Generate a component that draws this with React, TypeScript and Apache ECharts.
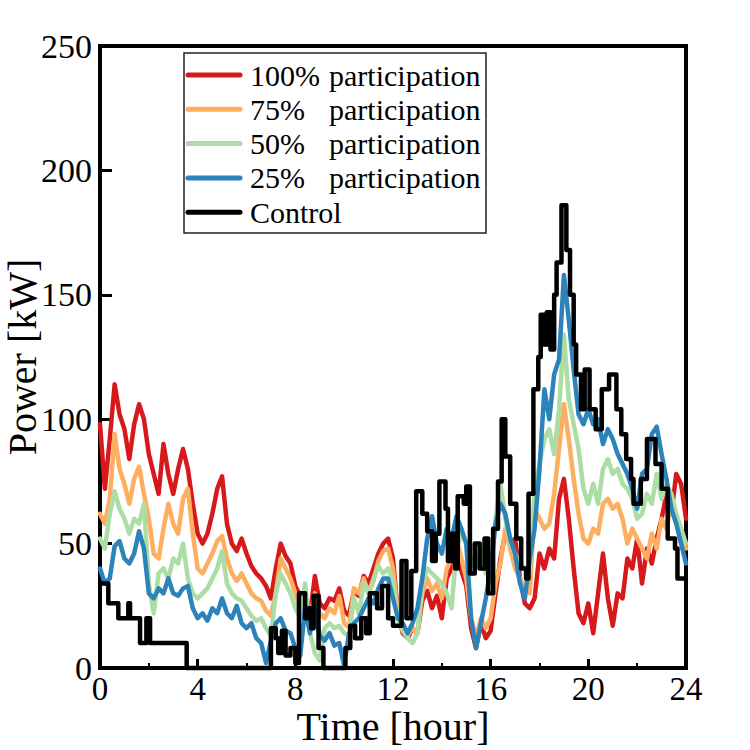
import { useEffect, useRef } from "react";
import * as echarts from "echarts";

// Sampled every 0.2 h from 0 to 24 h
const HOURS: number[] = Array.from({ length: 121 }, (_, i) => Math.round(i * 2) / 10);

const P100: number[] = [
  98, 72, 92, 114, 102, 96, 84, 98, 106, 100,
  86, 78, 70, 90, 78, 70, 80, 88, 80, 66,
  54, 50, 54, 62, 72, 77, 58, 50, 47, 52,
  46, 41, 38, 36, 33, 28, 40, 50, 45, 42,
  33, 29, 25, 21, 37, 26, 24, 28, 27, 32,
  23, 21, 31, 29, 37, 34, 40, 46, 50, 52,
  44, 22, 14, 12, 16, 14, 27, 31, 24, 29,
  20, 36, 40, 47, 39, 33, 16, 8, 18, 12,
  15, 30, 44, 54, 50, 52, 36, 26, 24, 28,
  46, 40, 48, 44, 68, 76, 60, 40, 22, 18,
  26, 14, 30, 46, 28, 17, 30, 28, 44, 40,
  52, 34, 48, 42, 52, 60, 70, 62, 78, 74,
  60,
];

const P75: number[] = [
  62, 58, 68, 94, 80, 74, 66, 76, 81, 70,
  60, 46, 44, 56, 66, 58, 54, 68, 72, 54,
  40, 38, 42, 46, 51, 53, 44, 38, 35, 38,
  34, 30, 28, 27, 23, 21, 30, 44, 40, 36,
  30, 24, 20, 20, 30, 22, 20, 24, 22, 29,
  18, 16, 32, 30, 36, 30, 35, 43, 47, 48,
  40, 22, 15, 13, 16, 14, 30, 36, 31, 34,
  28, 40, 44, 52, 44, 36, 20, 12, 20, 16,
  20, 34, 42, 56, 48, 40, 36, 32, 30, 64,
  60, 56, 58, 70, 88, 106, 92, 76, 62, 52,
  50, 56, 54, 66, 68, 64, 66, 60, 50, 56,
  52, 48, 44, 54, 48, 60, 56, 66, 58, 56,
  48,
];

const P50: number[] = [
  52, 48, 62, 71, 64, 60, 54, 60, 58, 66,
  34, 22, 38, 40, 36, 44, 42, 50, 36, 30,
  28, 30, 32, 36, 40, 47, 34, 30, 28, 27,
  24, 21, 19, 20, 16, 13, 30, 38, 34, 30,
  24, 20, 34, 14, 6, 3, 16, 18, 16, 17,
  14, 13, 28, 22, 34, 30, 36, 41, 38, 40,
  35, 20, 15, 12, 10, 14, 34, 40, 38, 36,
  34, 30, 24, 48, 54, 50, 44, 40, 48, 38,
  36, 60, 74, 60, 50, 46, 42, 40, 38, 72,
  82, 92, 96, 86, 104, 134, 108, 98, 88, 72,
  66, 74, 66, 80, 84, 78, 80, 74, 72, 68,
  60, 62, 70, 66, 78, 68, 74, 70, 62, 56,
  50,
];

const P25: number[] = [
  40, 34, 36, 49, 51, 44, 42, 46, 55, 48,
  30, 28, 32, 30, 36, 30, 29, 32, 33, 24,
  20, 22, 19, 24, 22, 28, 22, 20, 25, 18,
  16, 18, 12, 10, 2, 11, 18, 20, 15, 14,
  8, 5, 24, 14, 25, 13, 11, 14, 9, 10,
  1, 14, 18, 20, 24, 28, 26, 32, 36, 36,
  28, 20, 18, 14, 18, 24, 36, 52, 61, 50,
  46, 56, 52, 61, 56, 50, 20, 8, 18, 28,
  40, 58, 66, 62, 52, 46, 34, 28, 44, 56,
  80, 112, 100, 118, 124, 158, 140, 120, 102, 98,
  104, 98, 100, 90, 96, 92, 86, 82, 78, 72,
  64, 78, 80, 94, 97, 86, 76, 64, 58, 50,
  42,
];

// Control load changes level at these hours and holds until the next one
const CONTROL_HOURS: number[] = [
  0, 0.34, 0.75, 1.16, 1.23, 1.64, 1.9, 2.05, 3.55, 7.0,
  7.2, 7.3, 7.45, 7.6, 7.8, 8.0, 8.15, 8.4, 8.55, 8.65,
  8.75, 8.95, 9.15, 10.05, 10.25, 10.45, 10.7, 10.9, 11.05, 11.35,
  11.55, 11.8, 12.0, 12.35, 12.55, 12.75, 12.95, 13.2, 13.4, 13.6,
  13.75, 13.9, 14.15, 14.25, 14.4, 14.55, 14.65, 14.9, 15.0, 15.15,
  15.35, 15.55, 15.75, 15.9, 16.1, 16.3, 16.45, 16.6, 16.8, 17.05,
  17.25, 17.45, 17.55, 17.75, 17.95, 18.05, 18.2, 18.3, 18.45, 18.6,
  18.7, 18.9, 19.1, 19.25, 19.4, 19.5, 19.7, 19.85, 20.05, 20.3,
  20.55, 20.85, 21.15, 21.35, 21.55, 21.75, 21.85, 22.15, 22.4, 22.75,
  23.0, 23.25, 23.55, 23.65, 24,
];
const CONTROL_KW: number[] = [
  34, 26, 20, 26, 20, 10, 20, 10, 0, 16,
  12, 6, 15, 5, 8, 2, 30, 20, 24, 16,
  29, 8, 0, 8, 17, 12, 20, 14, 30, 24,
  33, 20, 17, 43, 20, 39, 71, 62, 55, 43,
  54, 75, 64, 43, 54, 40, 69, 66, 73, 38,
  50, 40, 52, 30, 56, 75, 100, 85, 66, 52,
  40, 36, 70, 112, 125, 142, 130, 143, 128, 150,
  163, 186, 168, 150, 130, 118, 104, 120, 104, 96,
  112, 118, 104, 94, 84, 76, 66, 76, 92, 82,
  72, 52, 48, 36, 36,
];

const SERIES_NAMES: string[] = [
  "100% participation",
  "75% participation",
  "50% participation",
  "25% participation",
  "Control",
];
const COLORS: string[] = ["#d7191c", "#fdae61", "#abdda4", "#2b83ba", "#000000"];

const X_TICKS = { min: 0, max: 24, interval: 4 };
const Y_TICKS = { min: 0, max: 250, interval: 50 };

const FONT = "Liberation Serif";

// Legend box layout (pixels)
const LEGEND_BOX = { x: 184, y: 53, width: 302, height: 180 };
const LEGEND_ROW0 = 75;
const LEGEND_PITCH = 34.3;
const LEGEND_LINE_X = [188, 240];
const LEGEND_TEXT_X = 250;
const LEGEND_WORD_X = 329;

function pairs(xs: number[], ys: number[]): number[][] {
  const n = Math.min(xs.length, ys.length);
  const out: number[][] = [];
  for (let i = 0; i < n; i++) out.push([xs[i], ys[i]]);
  return out;
}

function legendGraphic(): any[] {
  const textStyle = { fontFamily: FONT, fontSize: 30, fill: "#000", verticalAlign: "middle", align: "left" };
  const children: any[] = [
    {
      type: "rect",
      shape: { ...LEGEND_BOX },
      style: { fill: "#ffffff", stroke: "#222", lineWidth: 1.5 },
    },
  ];
  SERIES_NAMES.forEach((name, i) => {
    const y = LEGEND_ROW0 + i * LEGEND_PITCH;
    children.push({
      type: "line",
      shape: { x1: LEGEND_LINE_X[0], y1: y, x2: LEGEND_LINE_X[1], y2: y },
      style: { stroke: COLORS[i], lineWidth: 5, lineCap: "round" },
    });
    const k = name.indexOf(" ");
    if (k < 0) {
      children.push({ type: "text", style: { ...textStyle, text: name, x: LEGEND_TEXT_X, y } });
    } else {
      children.push({ type: "text", style: { ...textStyle, text: name.slice(0, k), x: LEGEND_TEXT_X, y } });
      children.push({ type: "text", style: { ...textStyle, text: name.slice(k + 1), x: LEGEND_WORD_X, y } });
    }
  });
  return [{ type: "group", z: 100, children }];
}

function buildOption() {
  const curves = [P100, P75, P50, P25];
  const lineSeries: any[] = curves.map((vals, i) => ({
    name: SERIES_NAMES[i],
    type: "line",
    data: pairs(HOURS, vals),
    showSymbol: false,
    symbol: "none",
    clip: false,
    color: COLORS[i],
    itemStyle: { color: COLORS[i] },
    lineStyle: { color: COLORS[i], width: 4.5, join: "round", cap: "round" },
    z: 2 + i,
  }));
  lineSeries.push({
    name: SERIES_NAMES[4],
    type: "line",
    step: "end",
    data: pairs(CONTROL_HOURS, CONTROL_KW),
    showSymbol: false,
    symbol: "none",
    clip: false,
    color: COLORS[4],
    itemStyle: { color: COLORS[4] },
    lineStyle: { color: COLORS[4], width: 4.5, join: "round", cap: "round" },
    z: 7,
  });

  return {
    animation: false,
    backgroundColor: "#ffffff",
    textStyle: { fontFamily: FONT },
    grid: {
      left: 100,
      right: 64,
      top: 46,
      bottom: 82,
      outerBoundsMode: "none",
      containLabel: false,
      show: true,
      borderColor: "#000",
      borderWidth: 4,
      backgroundColor: "transparent",
    },
    graphic: legendGraphic(),
    xAxis: {
      type: "value",
      min: X_TICKS.min,
      max: X_TICKS.max,
      interval: X_TICKS.interval,
      name: "Time [hour]",
      nameLocation: "middle",
      nameGap: 38,
      nameMoveOverlap: false,
      nameTextStyle: { fontFamily: FONT, fontSize: 40, color: "#000" },
      axisLine: { show: true, lineStyle: { color: "#000", width: 4 } },
      axisTick: { show: true, inside: true, length: 9, lineStyle: { color: "#000", width: 3 } },
      minorTick: { show: true, splitNumber: 2, length: 5, lineStyle: { color: "#000", width: 2 } },
      axisLabel: { fontFamily: FONT, fontSize: 33, color: "#000", margin: 4 },
      splitLine: { show: false },
    },
    yAxis: {
      type: "value",
      min: Y_TICKS.min,
      max: Y_TICKS.max,
      interval: Y_TICKS.interval,
      name: "Power [kW]",
      nameLocation: "middle",
      nameGap: 58,
      nameMoveOverlap: false,
      nameTextStyle: { fontFamily: FONT, fontSize: 40, color: "#000" },
      axisLine: { show: true, lineStyle: { color: "#000", width: 4 } },
      axisTick: { show: true, inside: true, length: 12, lineStyle: { color: "#000", width: 3 } },
      axisLabel: { fontFamily: FONT, fontSize: 34, color: "#000", margin: 8 },
      splitLine: { show: false },
    },
    series: lineSeries,
  };
}

export default function App() {
  const ref = useRef<HTMLDivElement>(null);
  useEffect(() => {
    if (!ref.current) return;
    const chart = echarts.init(ref.current, null, { renderer: "svg" });
    chart.setOption(buildOption() as any);
    return () => chart.dispose();
  }, []);
  return (
    <div
      ref={ref}
      style={{ position: "absolute", left: 0, top: 0, width: 750, height: 750, background: "#fff" }}
    />
  );
}
